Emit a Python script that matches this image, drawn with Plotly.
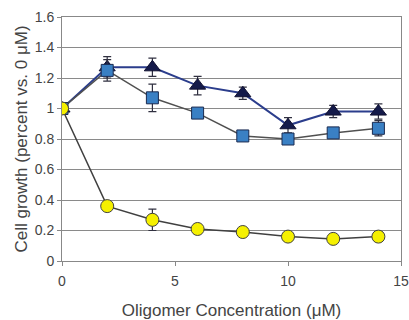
import plotly.graph_objects as go

conc = [0, 2, 4, 6, 8, 10, 12, 14]

tri_vals = [1.00, 1.27, 1.27, 1.15, 1.10, 0.89, 0.98, 0.98]
tri_err = [0.0, 0.07, 0.06, 0.06, 0.04, 0.05, 0.04, 0.05]

sq_vals = [1.00, 1.25, 1.07, 0.97, 0.82, 0.80, 0.84, 0.87]
sq_err = [0.0, 0.07, 0.09, 0.0, 0.0, 0.0, 0.0, 0.05]

circ_vals = [1.00, 0.36, 0.27, 0.21, 0.19, 0.16, 0.145, 0.16]
circ_err = [0.0, 0.02, 0.07, 0.0, 0.0, 0.0, 0.0, 0.0]

x_ticks = [0, 5, 10, 15]
y_ticks = [0, 0.2, 0.4, 0.6, 0.8, 1, 1.2, 1.4, 1.6]

fig = go.Figure()

fig.add_trace(go.Scatter(
    x=conc, y=tri_vals, mode="lines+markers",
    line=dict(color="#2b3d8c", width=2),
    marker=dict(symbol="triangle-up", size=14, color="#141a4a",
                line=dict(color="#101030", width=1)),
    error_y=dict(type="data", array=tri_err, color="#303040", thickness=1.2, width=4),
))
fig.add_trace(go.Scatter(
    x=conc, y=sq_vals, mode="lines+markers",
    line=dict(color="#505050", width=1.5),
    marker=dict(symbol="square", size=12, color="#3a80c4",
                line=dict(color="#1a2a50", width=1)),
    error_y=dict(type="data", array=sq_err, color="#303040", thickness=1.2, width=4),
))
fig.add_trace(go.Scatter(
    x=conc, y=circ_vals, mode="lines+markers",
    line=dict(color="#404040", width=1.5),
    marker=dict(symbol="circle", size=13, color="#f5f000",
                line=dict(color="#404040", width=1)),
    error_y=dict(type="data", array=circ_err, color="#303040", thickness=1.2, width=4),
))

fig.update_layout(
    width=409, height=320,
    margin=dict(l=62, r=8, t=17, b=59),
    paper_bgcolor="white", plot_bgcolor="white",
    showlegend=False,
    font=dict(family="Arial, Liberation Sans, sans-serif", size=14, color="#444444"),
    xaxis=dict(
        range=[0, 15], tickvals=x_ticks, ticks="outside", ticklen=4, tickcolor="#888",
        showgrid=False, zeroline=False, showline=True, linecolor="#888", linewidth=1,
        mirror=True, tickfont=dict(size=14), ticklabelstandoff=3, automargin=False,
        title=dict(text="Oligomer Concentration (μM)", font=dict(size=17), standoff=20),
    ),
    yaxis=dict(
        range=[0, 1.6], tickvals=y_ticks, ticks="outside", ticklen=4, tickcolor="#888",
        showgrid=True, gridcolor="#8a8a8a", gridwidth=1, zeroline=False, automargin=False,
        showline=True, linecolor="#888", linewidth=1, mirror=True, tickfont=dict(size=14),
        title=dict(text="Cell growth (percent vs. 0 μM)", font=dict(size=17), standoff=2),
    ),
)

fig.write_html("out.html")
